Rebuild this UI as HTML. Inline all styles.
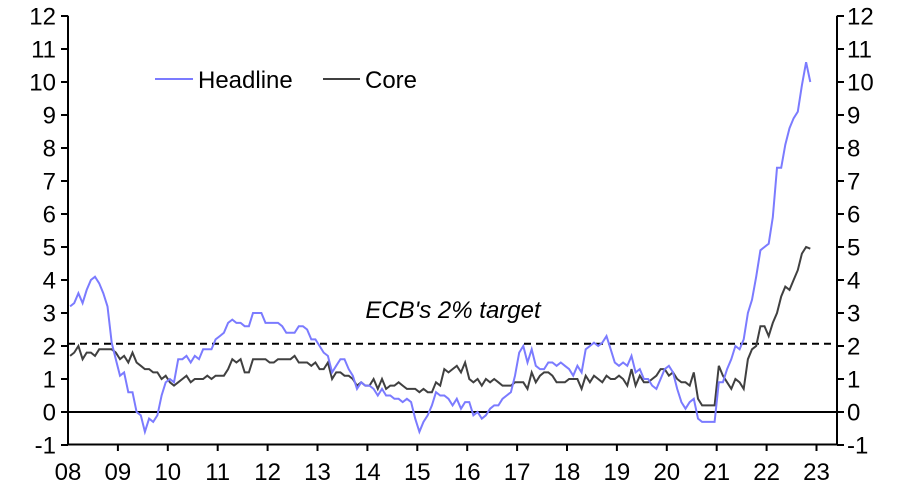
<!DOCTYPE html>
<html><head><meta charset="utf-8"><style>
body{margin:0;background:#fff;}
svg{display:block;font-family:"Liberation Sans",sans-serif;}
</style></head><body>
<svg id="c" width="898" height="496" viewBox="0 0 898 496" xmlns="http://www.w3.org/2000/svg">
<g id="g"></g>
</svg>
<script>
const H=[3.2,3.3,3.6,3.3,3.7,4.0,4.1,3.9,3.6,3.2,2.1,1.6,
1.1,1.2,0.6,0.6,0.0,-0.1,-0.6,-0.2,-0.3,-0.1,0.5,0.9,
1.0,0.9,1.6,1.6,1.7,1.5,1.7,1.6,1.9,1.9,1.9,2.2,
2.3,2.4,2.7,2.8,2.7,2.7,2.6,2.6,3.0,3.0,3.0,2.7,
2.7,2.7,2.7,2.6,2.4,2.4,2.4,2.6,2.6,2.5,2.2,2.2,
2.0,1.8,1.7,1.2,1.4,1.6,1.6,1.3,1.1,0.7,0.9,0.8,
0.8,0.7,0.5,0.7,0.5,0.5,0.4,0.4,0.3,0.4,0.3,-0.2,
-0.6,-0.3,-0.1,0.2,0.6,0.5,0.5,0.4,0.2,0.4,0.1,0.3,
0.3,-0.1,0.0,-0.2,-0.1,0.1,0.2,0.2,0.4,0.5,0.6,1.1,
1.8,2.0,1.5,1.9,1.4,1.3,1.3,1.5,1.5,1.4,1.5,1.4,
1.3,1.1,1.4,1.2,1.9,2.0,2.1,2.0,2.1,2.3,1.9,1.5,
1.4,1.5,1.4,1.7,1.2,1.3,1.0,1.0,0.8,0.7,1.0,1.3,
1.4,1.2,0.7,0.3,0.1,0.3,0.4,-0.2,-0.3,-0.3,-0.3,-0.3,
0.9,0.9,1.3,1.6,2.0,1.9,2.2,3.0,3.4,4.1,4.9,5.0,
5.1,5.9,7.4,7.4,8.1,8.6,8.9,9.1,9.9,10.6,10.0];
const C=[1.7,1.8,2.0,1.6,1.8,1.8,1.7,1.9,1.9,1.9,1.9,1.8,
1.6,1.7,1.5,1.8,1.5,1.4,1.3,1.3,1.2,1.2,1.0,1.1,
0.9,0.8,0.9,1.0,1.1,0.9,1.0,1.0,1.0,1.1,1.0,1.1,
1.1,1.1,1.3,1.6,1.5,1.6,1.2,1.2,1.6,1.6,1.6,1.6,
1.5,1.5,1.6,1.6,1.6,1.6,1.7,1.5,1.5,1.5,1.4,1.5,
1.3,1.3,1.5,1.0,1.2,1.2,1.1,1.1,1.0,0.8,0.9,0.8,
0.8,1.0,0.7,1.0,0.7,0.8,0.8,0.9,0.8,0.7,0.7,0.7,
0.6,0.7,0.6,0.6,0.9,0.8,1.3,1.2,1.3,1.4,1.2,1.5,
1.0,0.9,1.0,0.8,1.0,0.9,1.0,0.9,0.8,0.8,0.8,0.9,
0.9,0.9,0.7,1.2,0.9,1.1,1.2,1.2,1.1,0.9,0.9,0.9,
1.0,1.0,1.0,0.7,1.1,0.9,1.1,1.0,0.9,1.1,1.0,1.0,
1.1,1.0,0.8,1.3,0.8,1.1,0.9,0.9,1.0,1.1,1.3,1.3,
1.1,1.2,1.0,0.9,0.9,0.8,1.2,0.4,0.2,0.2,0.2,0.2,
1.4,1.1,0.9,0.7,1.0,0.9,0.7,1.6,1.9,2.0,2.6,2.6,
2.3,2.7,3.0,3.5,3.8,3.7,4.0,4.3,4.8,5.0,4.95];
const X0=68,YW=49.9,Y0=412,U=33.0,FS=24;
const xf=i=>X0+(i+0.5)/12*YW, yf=v=>Y0-v*U;
let s='';
const L=68,R=837;
s+=`<line x1="${L}" y1="15.7" x2="${L}" y2="444.5" stroke="#000" stroke-width="2"/>`;
s+=`<line x1="${R}" y1="15.7" x2="${R}" y2="444.5" stroke="#000" stroke-width="2"/>`;
s+=`<line x1="${L}" y1="${Y0}" x2="${R}" y2="${Y0}" stroke="#000" stroke-width="2"/>`;
s+=`<line x1="${L}" y1="444.5" x2="${R}" y2="444.5" stroke="#000" stroke-width="2"/>`;
for(let v=-1;v<=12;v++){const y=yf(v);
s+=`<line x1="${L-7}" y1="${y}" x2="${L}" y2="${y}" stroke="#000" stroke-width="2"/>`;
s+=`<line x1="${R}" y1="${y}" x2="${R+7}" y2="${y}" stroke="#000" stroke-width="2"/>`;
s+=`<text x="${L-12}" y="${y+8.5}" text-anchor="end" font-size="${FS}">${v}</text>`;
s+=`<text x="${R+10}" y="${y+8.5}" text-anchor="start" font-size="${FS}">${v}</text>`;}
for(let k=0;k<=15;k++){const x=X0+k*YW;
if(k>0&&x<R)s+=`<line x1="${x}" y1="444.5" x2="${x}" y2="451" stroke="#000" stroke-width="2"/>`;
s+=`<text x="${x}" y="480" text-anchor="middle" font-size="${FS}">${String(8+k).padStart(2,'0')}</text>`;}
s+=`<line x1="${L}" y1="${yf(2.07)}" x2="${R}" y2="${yf(2.07)}" stroke="#000" stroke-width="2" stroke-dasharray="7,5"/>`;
s+=`<text x="453" y="318" text-anchor="middle" font-size="${FS}" font-style="italic">ECB's 2% target</text>`;
s+=`<polyline fill="none" stroke="#404040" stroke-width="2" points="${C.map((v,i)=>xf(i).toFixed(1)+','+yf(v).toFixed(1)).join(' ')}"/>`;
s+=`<polyline fill="none" stroke="#7b7bff" stroke-width="2" points="${H.map((v,i)=>xf(i).toFixed(1)+','+yf(v).toFixed(1)).join(' ')}"/>`;
s+=`<line x1="155" y1="79" x2="193" y2="79" stroke="#7b7bff" stroke-width="2"/>`;
s+=`<text x="198" y="88" font-size="${FS}">Headline</text>`;
s+=`<line x1="323" y1="79" x2="360" y2="79" stroke="#404040" stroke-width="2"/>`;
s+=`<text x="365" y="88" font-size="${FS}">Core</text>`;
document.getElementById('g').innerHTML=s;
</script>
</body></html>
